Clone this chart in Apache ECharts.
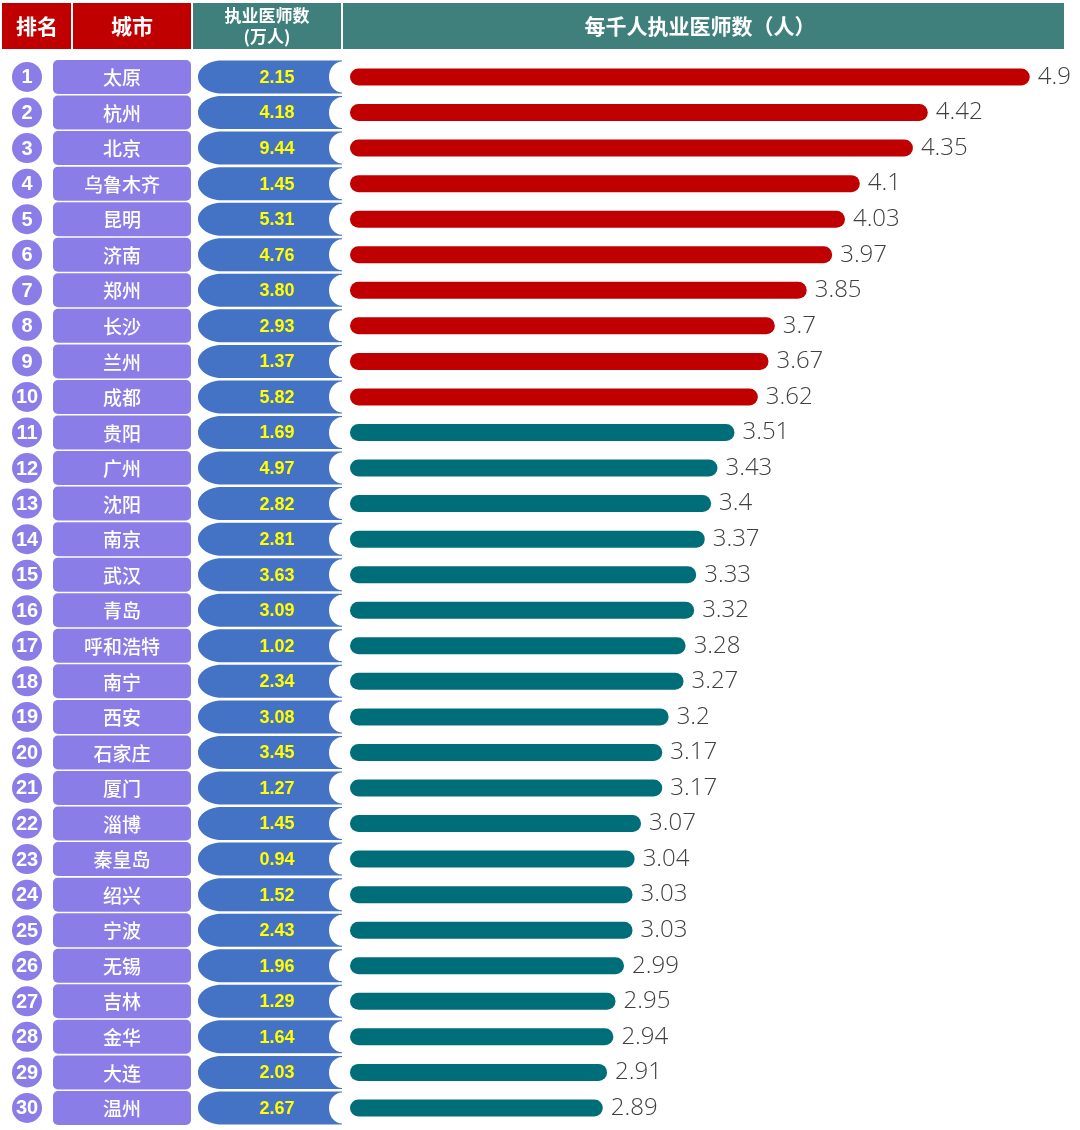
<!DOCTYPE html>
<html>
<head>
<meta charset="utf-8">
<script src="https://cdn.jsdelivr.net/npm/echarts@6/dist/echarts.min.js"></script>
<style>
html,body{margin:0;padding:0;background:#fff;}
#chart{width:1080px;height:1130px;}
</style>
</head>
<body>
<div id="chart"></div>
<script>
// ---- data ----
var ranks = [1,2,3,4,5,6,7,8,9,10,11,12,13,14,15,16,17,18,19,20,21,22,23,24,25,26,27,28,29,30];
var cities = ['太原','杭州','北京','乌鲁木齐','昆明','济南','郑州','长沙','兰州','成都','贵阳','广州','沈阳','南京','武汉','青岛','呼和浩特','南宁','西安','石家庄','厦门','淄博','秦皇岛','绍兴','宁波','无锡','吉林','金华','大连','温州'];
var doctors = ['2.15','4.18','9.44','1.45','5.31','4.76','3.80','2.93','1.37','5.82','1.69','4.97','2.82','2.81','3.63','3.09','1.02','2.34','3.08','3.45','1.27','1.45','0.94','1.52','2.43','1.96','1.29','1.64','2.03','2.67'];
var perThousand = [4.9,4.42,4.35,4.1,4.03,3.97,3.85,3.7,3.67,3.62,3.51,3.43,3.4,3.37,3.33,3.32,3.28,3.27,3.2,3.17,3.17,3.07,3.04,3.03,3.03,2.99,2.95,2.94,2.91,2.89];
var headers = ['排名','城市','执业医师数\n(万人)','每千人执业医师数（人）'];

var RED = '#C00000', TEAL = '#006E78', PURPLE = '#8B7DE8', BLUE = '#4472C4', HEAD_TEAL = '#3F807C';
var CJK = '"Noto Sans CJK SC", sans-serif';

var chart = echarts.init(document.getElementById('chart'), null, {renderer:'canvas'});

var GRID_TOP = 59.2, GRID_H = 1066.5;

function renderLeft(params, api) {
  var idx = api.value(1);
  var pt = api.coord([0, idx]);
  var cy = pt[1];
  var x0 = params.coordSys.x;
  var rank = ranks[idx], city = cities[idx], doc = doctors[idx];
  var k = 0.5523;
  // blue tag shape
  var x1 = x0 + 198, x2 = x0 + 342, hh = 16.5, t = cy - hh, b = cy + hh, rx = 24, d = 13, ry = hh - 1;
  var p = 'M' + (x1 + rx) + ' ' + t +
    ' L' + x2 + ' ' + t +
    ' L' + x2 + ' ' + (cy - ry) +
    ' C' + (x2 - k * d) + ' ' + (cy - ry) + ' ' + (x2 - d) + ' ' + (cy - k * ry) + ' ' + (x2 - d) + ' ' + cy +
    ' C' + (x2 - d) + ' ' + (cy + k * ry) + ' ' + (x2 - k * d) + ' ' + (cy + ry) + ' ' + x2 + ' ' + (cy + ry) +
    ' L' + x2 + ' ' + b +
    ' L' + (x1 + rx) + ' ' + b +
    ' C' + (x1 + rx - k * rx) + ' ' + b + ' ' + x1 + ' ' + (cy + k * hh) + ' ' + x1 + ' ' + cy +
    ' C' + x1 + ' ' + (cy - k * hh) + ' ' + (x1 + rx - k * rx) + ' ' + t + ' ' + (x1 + rx) + ' ' + t + ' Z';
  return {
    type: 'group',
    children: [
      {type: 'circle', shape: {cx: x0 + 27, cy: cy, r: 15}, style: {fill: PURPLE}},
      {type: 'text', style: {text: String(rank), x: x0 + 27, y: cy + 1, align: 'center', verticalAlign: 'middle', fill: '#fff', font: 'bold 20px "Liberation Sans Narrow", "Liberation Sans", Arial, sans-serif'}},
      {type: 'rect', shape: {x: x0 + 53, y: cy - 17, width: 138, height: 34, r: 5}, style: {fill: PURPLE}},
      {type: 'text', style: {text: city, x: x0 + 122, y: cy + 1, align: 'center', verticalAlign: 'middle', fill: '#fff', font: '500 19px ' + CJK}},
      {type: 'path', shape: {pathData: p}, style: {fill: BLUE}},
      {type: 'text', style: {text: doc, x: x0 + 277, y: cy + 1, align: 'center', verticalAlign: 'middle', fill: '#FFFF00', font: 'bold 18px "Liberation Sans", Arial, sans-serif'}}
    ]
  };
}

var headerGraphics = [
  {type: 'rect', shape: {x: 2, y: 3, width: 69, height: 46}, style: {fill: RED}},
  {type: 'rect', shape: {x: 73, y: 3, width: 118, height: 46}, style: {fill: RED}},
  {type: 'rect', shape: {x: 193, y: 3, width: 148, height: 46}, style: {fill: HEAD_TEAL}},
  {type: 'rect', shape: {x: 343, y: 3, width: 721, height: 46}, style: {fill: HEAD_TEAL}},
  {type: 'text', style: {text: headers[0], x: 37, y: 26, align: 'center', verticalAlign: 'middle', fill: '#fff', font: 'bold 21px ' + CJK}},
  {type: 'text', style: {text: headers[1], x: 132, y: 26, align: 'center', verticalAlign: 'middle', fill: '#fff', font: 'bold 21px ' + CJK}},
  {type: 'text', style: {text: headers[2], x: 267, y: 26, align: 'center', verticalAlign: 'middle', fill: '#fff', font: 'bold 17px ' + CJK, lineHeight: 21}},
  {type: 'text', style: {text: headers[3], x: 700, y: 26, align: 'center', verticalAlign: 'middle', fill: '#fff', font: 'bold 21px ' + CJK}}
];

var option = {
  animation: false,
  backgroundColor: '#fff',
  graphic: headerGraphics,
  grid: [
    {left: 350, top: GRID_TOP, width: 701, height: GRID_H, containLabel: false},
    {left: 0, top: GRID_TOP, width: 350, height: GRID_H, containLabel: false}
  ],
  xAxis: [
    {type: 'value', gridIndex: 0, min: 1.7, max: 5.0, show: false},
    {type: 'value', gridIndex: 1, min: 0, max: 350, show: false}
  ],
  yAxis: [
    {type: 'category', gridIndex: 0, data: cities, inverse: true, show: false},
    {type: 'category', gridIndex: 1, data: cities, inverse: true, show: false}
  ],
  series: [
    {
      type: 'bar',
      xAxisIndex: 0, yAxisIndex: 0,
      data: perThousand,
      barWidth: 17,
      itemStyle: {
        borderRadius: 8.5,
        color: function (p) { return p.dataIndex < 10 ? RED : TEAL; }
      },
      label: {
        show: true,
        position: 'right',
        distance: 8,
        color: '#404040',
        fontSize: 24,
        fontWeight: 300,
        fontFamily: '"Open Sans", "DejaVu Sans", sans-serif'
      }
    },
    {
      type: 'custom',
      xAxisIndex: 1, yAxisIndex: 1,
      renderItem: renderLeft,
      encode: {x: 0, y: 1},
      data: ranks.map(function (r, i) { return [0, i]; })
    }
  ]
};
chart.setOption(option);
</script>
</body>
</html>
